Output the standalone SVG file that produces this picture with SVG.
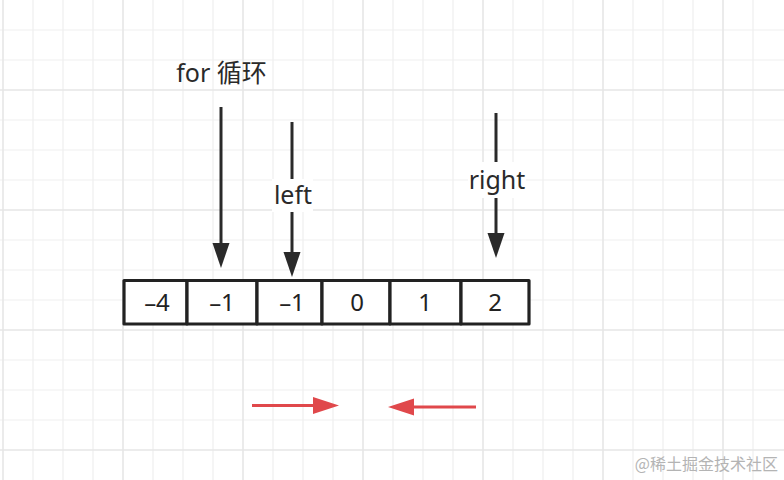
<svg xmlns="http://www.w3.org/2000/svg" width="784" height="480" viewBox="0 0 784 480">
<defs>
<style>
.minor{stroke:#efefef;stroke-width:1.2;fill:none}
.major{stroke:#e6e6e6;stroke-width:1.6;fill:none}
.cell{fill:#ffffff;stroke:#222222;stroke-width:3.2;stroke-linejoin:round}
.num{font-family:"Noto Sans","Liberation Sans",sans-serif;font-size:24px;fill:#222222;text-anchor:middle}
.lbl{font-family:"Noto Sans","Noto Sans CJK SC",sans-serif;font-size:25px;fill:#2a2a2a;text-anchor:middle}
.blk{stroke:#2a2a2a;stroke-width:3;fill:none}
.red{stroke:#e0484b;stroke-width:3;fill:none}
.wm{font-family:"Noto Sans CJK SC","Noto Sans",sans-serif;font-size:16px;fill:#b4b4b4;text-anchor:end}
</style>
<marker id="hb" markerUnits="userSpaceOnUse" markerWidth="26" markerHeight="18" refX="0" refY="8.5" orient="auto">
<path d="M0,0 L25,8.5 L0,17 z" fill="#2a2a2a"/>
</marker>
<marker id="hr" markerUnits="userSpaceOnUse" markerWidth="27" markerHeight="18" refX="0" refY="8.5" orient="auto">
<path d="M0,0 L26,8.5 L0,17 z" fill="#e0484b"/>
</marker>
</defs>
<rect width="784" height="480" fill="#ffffff"/>
<g id="grid">
<path class="minor" d="M33,0V480M63,0V480M93,0V480M153,0V480M183,0V480M213,0V480M273,0V480M303,0V480M333,0V480M393,0V480M423,0V480M453,0V480M513,0V480M543,0V480M573,0V480M633,0V480M663,0V480M693,0V480M753,0V480M0,30H784M0,60H784M0,120H784M0,150H784M0,180H784M0,240H784M0,270H784M0,300H784M0,360H784M0,390H784M0,420H784"/>
<path class="major" d="M3,0V480M123,0V480M243,0V480M363,0V480M483,0V480M603,0V480M723,0V480M0,90H784M0,210H784M0,330H784M0,450H784"/>
</g>
<g id="array">
<rect class="cell" x="124" y="280.5" width="63" height="43.5"/>
<rect class="cell" x="187" y="280.5" width="70" height="43.5"/>
<rect class="cell" x="257" y="280.5" width="65" height="43.5"/>
<rect class="cell" x="322" y="280.5" width="68" height="43.5"/>
<rect class="cell" x="390" y="280.5" width="71" height="43.5"/>
<rect class="cell" x="461" y="280.5" width="68" height="43.5"/>
<text class="num" x="157" y="311">–4</text>
<text class="num" x="222" y="311">–1</text>
<text class="num" x="292" y="311">–1</text>
<text class="num" x="357" y="311">0</text>
<text class="num" x="425" y="311">1</text>
<text class="num" x="495" y="311">2</text>
</g>
<g id="connectors">
<line class="blk" x1="221" y1="107" x2="221" y2="243" marker-end="url(#hb)"/>
<line class="blk" x1="292" y1="122" x2="292" y2="252" marker-end="url(#hb)"/>
<line class="blk" x1="496" y1="113" x2="496" y2="233" marker-end="url(#hb)"/>
<line class="red" x1="252" y1="405.5" x2="313" y2="405.5" marker-end="url(#hr)"/>
<line class="red" x1="476" y1="407" x2="414" y2="407" marker-end="url(#hr)"/>
</g>
<g id="label-for">
<text class="lbl" x="221.5" y="82">for 循环</text>
</g>
<g id="label-left">
<rect x="272" y="179" width="41" height="33" fill="#ffffff"/>
<text class="lbl" x="293" y="204">left</text>
</g>
<g id="label-right">
<rect x="468" y="162" width="58" height="36" fill="#ffffff"/>
<text class="lbl" x="497" y="189">right</text>
</g>
<text class="wm" x="778" y="470">@稀土掘金技术社区</text>
</svg>
